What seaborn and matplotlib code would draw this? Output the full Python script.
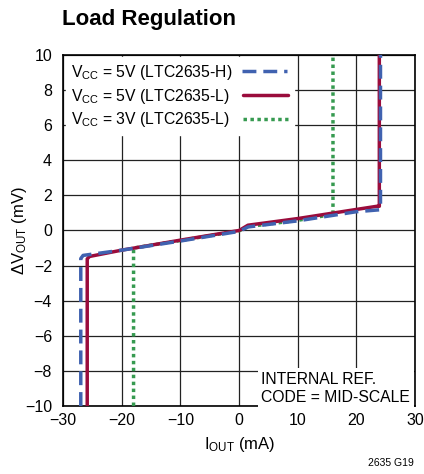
import pandas as pd
import matplotlib
matplotlib.use('Agg')
import matplotlib.pyplot as plt
import seaborn as sns

# data
series_names = ['$V_{CC}$ = 5V (LTC2635-H)',
                '$V_{CC}$ = 5V (LTC2635-L)',
                '$V_{CC}$ = 3V (LTC2635-L)']

h5_iout = [-27.0, -27.0, -26.6, -20, -10, 0, 1.5, 10, 20, 24.0, 24.1, 24.1]
h5_dv = [-10, -1.6, -1.42, -1.12, -0.6, -0.05, 0.2, 0.55, 1.07, 1.18, 1.3, 10]

l5_iout = [-25.9, -25.9, -25.5, -20, -10, 0, 1.5, 10, 20, 23.5, 23.9, 23.9]
l5_dv = [-10, -1.62, -1.48, -1.12, -0.55, 0.0, 0.3, 0.68, 1.2, 1.38, 1.38, 10]

l3_iout = [-18.0, -18.0, -10, 0, 1.5, 10, 16.0, 16.0]
l3_dv = [-10, -1.0, -0.57, -0.02, 0.22, 0.58, 0.92, 10]

colors = ['#4062b0', '#9a0c3c', '#369a50']

rows = []
for name, xs, ys in zip(series_names, [h5_iout, l5_iout, l3_iout], [h5_dv, l5_dv, l3_dv]):
    for i, (x, y) in enumerate(zip(xs, ys)):
        rows.append({'series': name, 'order': i, 'iout': x, 'dv': y})
df = pd.DataFrame(rows)

sns.set_style('white')
plt.rcParams['font.family'] = ['Liberation Sans', 'DejaVu Sans']
plt.rcParams['mathtext.fontset'] = 'custom'
plt.rcParams['mathtext.rm'] = 'Liberation Sans'
plt.rcParams['mathtext.it'] = 'Liberation Sans'
plt.rcParams['text.color'] = 'black'
plt.rcParams['axes.labelcolor'] = 'black'
plt.rcParams['xtick.color'] = 'black'
plt.rcParams['ytick.color'] = 'black'

fig = plt.figure(figsize=(4.24, 4.74), dpi=100)
ax = fig.add_axes([0.149, 0.1435, 0.830, 0.7405])

sns.lineplot(data=df, x='iout', y='dv', hue='series', style='series',
             palette=dict(zip(series_names, colors)),
             dashes={series_names[0]: (4, 2), series_names[1]: '', series_names[2]: (1, 1)},
             sort=False, estimator=None, units='series', linewidth=2.5, ax=ax)

# blue dashed drawn over the red line, green underneath
for ln, z in zip(ax.lines[:3], [3.2, 3.0, 2.8]):
    ln.set_zorder(z)

ax.set_xlim(-30, 30)
ax.set_ylim(-10, 10)
ax.set_xticks(range(-30, 31, 10))
ax.set_yticks(range(-10, 11, 2))
ax.set_xticklabels([str(v).replace('-', '\u2212') for v in range(-30, 31, 10)])
ax.set_yticklabels([str(v).replace('-', '\u2212') for v in range(-10, 11, 2)])
ax.grid(True, color='#222222', linewidth=0.9)
ax.set_axisbelow(True)
for sp in ax.spines.values():
    sp.set_color('black')
    sp.set_linewidth(1.2)
ax.tick_params(labelsize=11.5, length=0)
ax.tick_params(axis='y', pad=8)
ax.tick_params(axis='x', pad=5)

ax.set_xlabel('$I_{OUT}$ (mA)', fontsize=12, labelpad=5)
ax.set_ylabel('$\\Delta V_{OUT}$ (mV)', fontsize=12, labelpad=-3)

leg = ax.legend(loc='upper left', markerfirst=False, frameon=True, fontsize=11.3,
                handlelength=2.9, borderaxespad=0.15, labelspacing=0.3,
                borderpad=0.35, handletextpad=0.6, fancybox=False)
leg.get_frame().set_edgecolor('white')
leg.get_frame().set_alpha(1)

# left-align legend labels while keeping the handles in one column
fig.canvas.draw()
renderer = fig.canvas.get_renderer()
column = leg._legend_handle_box.get_children()[0]
column.align = 'left'
entries = column.get_children()
widths = [e.get_children()[0].get_bbox(renderer).width for e in entries]
for e, w in zip(entries, widths):
    e.sep = e.sep + (max(widths) - w)

ax.text(3.8, -9.0, 'INTERNAL REF.\nCODE = MID-SCALE', fontsize=11.3, ha='left',
        va='center', linespacing=1.3,
        bbox=dict(facecolor='white', edgecolor='none', pad=2.5))

fig.text(0.147, 0.958, 'Load Regulation', fontsize=16, fontweight='bold', ha='left', va='center')
fig.text(0.975, 0.012, '2635 G19', fontsize=7.5, ha='right', va='bottom')

fig.savefig('out.png', dpi=100)
